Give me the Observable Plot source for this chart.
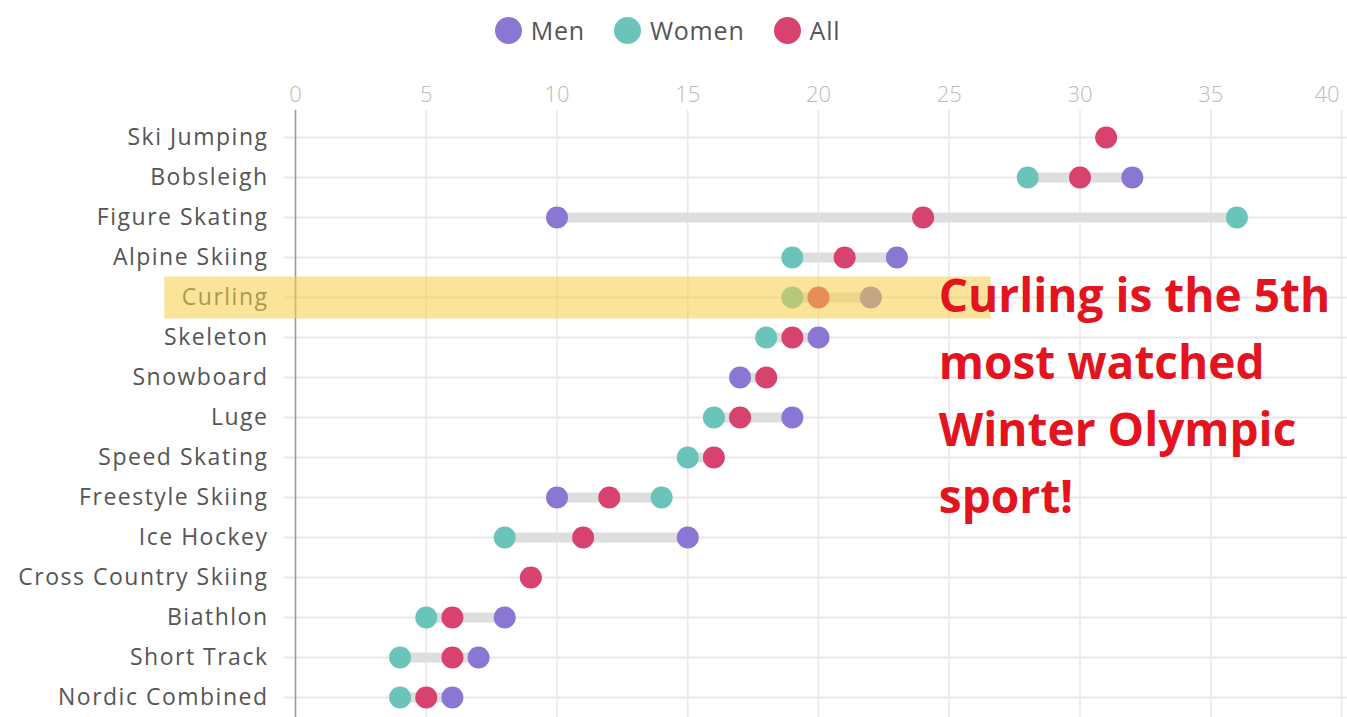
<!DOCTYPE html>
<html>
<head>
<meta charset="utf-8">
<script src="https://cdn.jsdelivr.net/npm/d3@7"></script>
<script src="https://cdn.jsdelivr.net/npm/@observablehq/plot@0.6"></script>
<style>
  body { margin: 0; background: #fff; font-family: "Open Sans", sans-serif; overflow: hidden; }
  #legend { height: 60px; display: flex; justify-content: center; align-items: center; gap: 29px; padding-right: 12px; box-sizing: border-box; }
  .item { display: flex; align-items: center; gap: 9px; font-size: 25px; color: #555; letter-spacing: 0.8px; }
  .sw { width: 27px; height: 27px; border-radius: 50%; display: inline-block; }
  #chart svg { display: block; }
  #chart g[aria-label="y-axis tick label"] text { letter-spacing: 1.5px; }
</style>
</head>
<body>
<div id="legend"></div>
<div id="chart"></div>
<script>
const sports = ["Ski Jumping", "Bobsleigh", "Figure Skating", "Alpine Skiing", "Curling", "Skeleton", "Snowboard", "Luge", "Speed Skating", "Freestyle Skiing", "Ice Hockey", "Cross Country Skiing", "Biathlon", "Short Track", "Nordic Combined"];
const men   = [null, 32, 10, 23, 22, 20, 17, 19, null, 10, 15, null, 8, 7, 6];
const women = [null, 28, 36, 19, 19, 18, null, 16, 15, 14, 8, null, 5, 4, 4];
const all   = [31, 30, 24, 21, 20, 19, 18, 17, 16, 12, 11, 9, 6, 6, 5];
const series = ["Men", "Women", "All"];
const seriesColors = ["#8a76d3", "#6bc4b9", "#d8426e"];
const xTicks = [0, 5, 10, 15, 20, 25, 30, 35, 40];
const highlightSport = "Curling";
const highlightFrom = -5;
const highlightTo = 26.6;
const noteText = "Curling is the 5th\nmost watched\nWinter Olympic\nsport!";
const noteX = 24.6;

// legend
const legend = document.getElementById("legend");
series.forEach((s, i) => {
  const it = document.createElement("span");
  it.className = "item";
  it.innerHTML = `<span class="sw" style="background:${seriesColors[i]}"></span><span>${s}</span>`;
  legend.appendChild(it);
});

const valuesBySeries = [men, women, all];
const rows = [];
series.forEach((s, si) => {
  sports.forEach((sp, i) => {
    const v = valuesBySeries[si][i];
    if (v != null) rows.push({sport: sp, series: s, value: v});
  });
});
const ranges = sports.map((sp, i) => {
  const vs = valuesBySeries.map(a => a[i]).filter(v => v != null);
  return {sport: sp, min: d3.min(vs), max: d3.max(vs)};
});

const lastTick = xTicks[xTicks.length - 1];
const chart = Plot.plot({
  width: 1347,
  height: 664,
  marginLeft: 295,
  marginRight: 6,
  marginTop: 50,
  marginBottom: 0,
  style: {fontFamily: "'Open Sans', sans-serif", background: "#fff"},
  x: {domain: [0, 40], label: null},
  y: {type: "point", domain: sports, padding: 0.5, label: null},
  color: {domain: series, range: seriesColors},
  marks: [
    Plot.ruleX(xTicks, {stroke: "#e8e8e8", strokeWidth: 1.5}),
    Plot.ruleY(sports, {y: d => d, x1: -0.4, x2: 40.3, stroke: "#e8e8e8", strokeWidth: 2}),
    Plot.ruleX([0], {stroke: "#999", strokeWidth: 1.5}),
    Plot.ruleY(ranges, {y: "sport", x1: "min", x2: "max", stroke: "#dedede", strokeWidth: 10}),
    Plot.dot(rows, {x: "value", y: "sport", fill: "series", r: 11}),
    Plot.axisX(xTicks.slice(0, -1), {anchor: "top", tickSize: 0, tickPadding: 9, fontSize: 22, color: "#bbb", fontWeight: 300}),
    Plot.axisX([lastTick], {anchor: "top", tickSize: 0, tickPadding: 9, fontSize: 22, color: "#bbb", fontWeight: 300, textAnchor: "end", dx: -2}),
    Plot.axisY({tickSize: 0, tickPadding: 27, fontSize: 23, color: "#555"}),
    Plot.ruleY([highlightSport], {y: d => d, x1: highlightFrom, x2: highlightTo, stroke: "#f4ce47", strokeOpacity: 0.55, strokeWidth: 42}),
    Plot.text([noteText], {x: noteX, y: () => highlightSport, text: d => d, textAnchor: "start", lineAnchor: "top", dy: -33, lineHeight: 1.456, fontSize: 46, fontWeight: "bold", fill: "#e3141e", fontFamily: "'Open Sans', sans-serif"})
  ]
});
document.getElementById("chart").appendChild(chart);
</script>
</body>
</html>
